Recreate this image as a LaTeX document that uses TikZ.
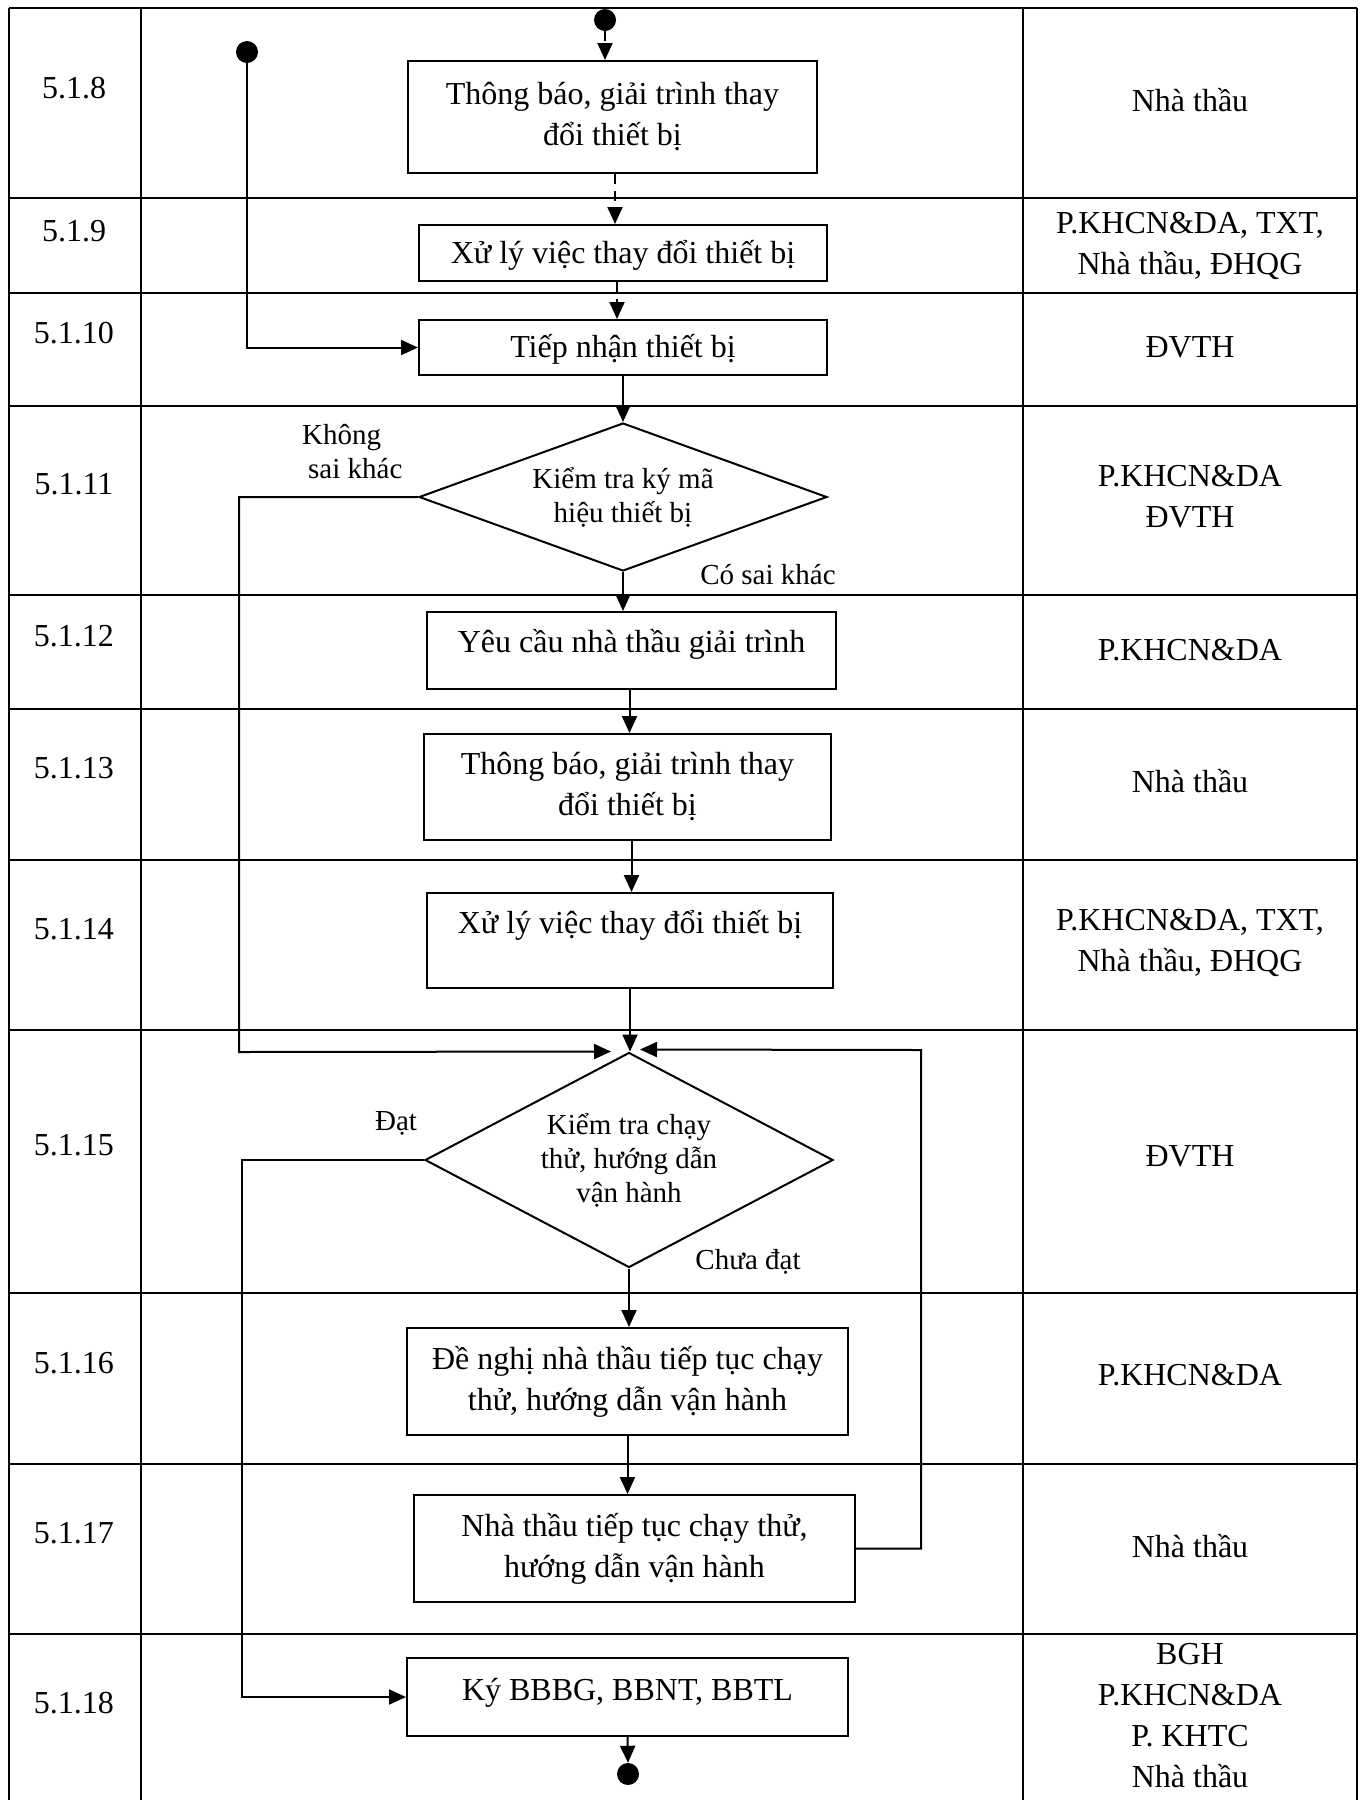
\documentclass[tikz,border=0pt]{standalone}
\usepackage{fontspec}
\setmainfont{Liberation Serif}
\usetikzlibrary{arrows.meta,shapes.geometric}
\begin{document}
\begin{tikzpicture}[x=1pt,y=-1pt,
  tbl/.style={line width=2.4pt},
  box/.style={draw,line width=2pt,rectangle,inner sep=0pt,align=center,font=\fontsize{32}{41}\selectfont},
  one/.style={text height=22pt,text depth=1.5pt},
  dia/.style={draw,line width=2pt,diamond,inner sep=0pt,align=center,font=\fontsize{29}{34}\selectfont},
  lbl/.style={font=\fontsize{29}{34}\selectfont,inner sep=0pt},
  cell/.style={font=\fontsize{32}{41}\selectfont,inner sep=0pt,align=center},
  flow/.style={line width=2pt,-{Triangle[length=17pt,width=15pt]}},
  dflow/.style={flow,dash pattern=on 10pt off 7pt},
  dot/.style={circle,fill=black,minimum size=22pt,inner sep=0pt},
]
\useasboundingbox (0,0) rectangle (1367,1800);
% table
\foreach \y in {8,198,293,406,595,709,860,1030,1293,1464,1634}
  \draw[tbl] (9,\y) -- (1357,\y);
\foreach \x in {9,141,1023,1357}
  \draw[tbl] (\x,8) -- (\x,1800);
% left column numbers
\foreach \y/\t in {88/5.1.8,231/5.1.9,333/5.1.10,484/5.1.11,636/5.1.12,768/5.1.13,929/5.1.14,1145/5.1.15,1363/5.1.16,1533/5.1.17,1703/5.1.18}
  \node[cell,one] at (74,\y) {\t};
% right column
\node[cell,one] (r8) at (1190,101) {Nhà thầu};
\node[cell] (r9) at (1190,246) {P.KHCN\&DA, TXT,\\Nhà thầu, ĐHQG};
\node[cell,one] (r10) at (1190,347) {ĐVTH};
\node[cell] (r11) at (1190,497) {P.KHCN\&DA\\ĐVTH};
\node[cell,one] (r12) at (1190,650) {P.KHCN\&DA};
\node[cell,one] (r13) at (1190,782) {Nhà thầu};
\node[cell] (r14) at (1190,943) {P.KHCN\&DA, TXT,\\Nhà thầu, ĐHQG};
\node[cell,one] (r15) at (1190,1156) {ĐVTH};
\node[cell,one] (r16) at (1190,1375) {P.KHCN\&DA};
\node[cell,one] (r17) at (1190,1547) {Nhà thầu};
\node[cell] (r18) at (1190,1716) {BGH\\P.KHCN\&DA\\P. KHTC\\Nhà thầu};
% flow nodes
\node[dot] (s1) at (605,20) {};
\node[dot] (s2) at (247,52) {};
\node[box,minimum width=409pt,minimum height=112pt] (b1) at (612.5,117) {Thông báo, giải trình thay\\đổi thiết bị};
\node[box,one,minimum width=408pt,minimum height=56pt] (b2) at (623,253) {Xử lý việc thay đổi thiết bị};
\node[box,one,minimum width=408pt,minimum height=55pt] (b3) at (623,347.5) {Tiếp nhận thiết bị};
\node[dia,aspect=2.76,minimum width=408pt,minimum height=148pt] (d1) at (623,497) {Kiểm tra ký mã\\hiệu thiết bị};
\node[box,one,text depth=18pt,minimum width=409pt,minimum height=77pt] (b4) at (631.5,650.5) {Yêu cầu nhà thầu giải trình};
\node[box,minimum width=407pt,minimum height=106pt] (b5) at (627.5,787) {Thông báo, giải trình thay\\đổi thiết bị};
\node[box,one,text depth=36pt,minimum width=406pt,minimum height=95pt] (b6) at (630,940.5) {Xử lý việc thay đổi thiết bị};
\node[dia,aspect=1.9,minimum width=408pt,minimum height=215pt] (d2) at (629,1160) {Kiểm tra chạy\\thử, hướng dẫn\\vận hành};
\node[box,minimum width=441pt,minimum height=107pt] (b7) at (627.5,1381.5) {Đề nghị nhà thầu tiếp tục chạy\\thử, hướng dẫn vận hành};
\node[box,minimum width=441pt,minimum height=107pt] (b8) at (634.5,1548.5) {Nhà thầu tiếp tục chạy thử,\\hướng dẫn vận hành};
\node[box,one,text depth=15pt,minimum width=441pt,minimum height=78pt] (b9) at (627.5,1697) {Ký BBBG, BBNT, BBTL};
\node[dot] (e1) at (628,1774) {};
% branch labels
\node[lbl,align=left,anchor=west] (l1) at (302,452) {Không\\\hspace*{6pt}sai khác};
\node[lbl,one] (l2) at (768,574) {Có sai khác};
\node[lbl,one] (l3) at (396,1120) {Đạt};
\node[lbl,one] (l4) at (748,1259) {Chưa đạt};
% helper coordinates
\coordinate (k1) at (239,497);
\coordinate (k2) at (239,1052);
\coordinate (k3) at (242,1160);
\coordinate (q1) at (921,1050);
% connectors
\draw[dflow] (s1) -- (s1 |- b1.north);
\draw[dflow] ([xshift=2.5pt]b1.south) -- ([xshift=2.5pt]b1.south |- b2.north);
\draw[dflow] ([xshift=-6pt]b2.south) -- ([xshift=-6pt]b3.north);
\draw[flow] (s2) |- (b3.west);
\draw[flow] (b3.south) -- (d1.north);
\draw[flow] (d1.south) -- (d1.south |- b4.north);
\draw[flow] ([xshift=-2pt]b4.south) -- ([xshift=-2pt]b4.south |- b5.north);
\draw[flow] ([xshift=4pt]b5.south) -- ([xshift=4pt]b5.south |- b6.north);
\draw[flow] (b6.south) -- (b6.south |- d2.north);
\draw[flow] (d1.west) -- (k1) -- (k2) -- ([xshift=-18pt]d2.north);
\draw[flow] (b8.east) -| (q1) -- ([shift={(11,-2)}]d2.north);
\draw[flow] (d2.south) -- (d2.south |- b7.north);
\draw[flow] (b7.south) -- (b7.south |- b8.north);
\draw[flow] (d2.west) -- (k3) |- (b9.west);
\draw[flow] (b9.south) -- (e1.north);
\end{tikzpicture}
\end{document}
